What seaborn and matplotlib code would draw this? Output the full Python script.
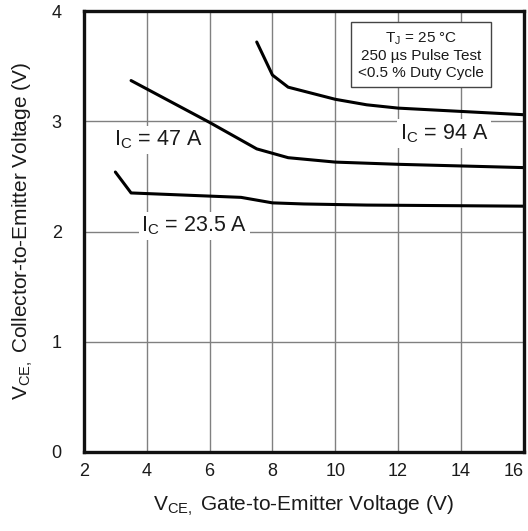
import pandas as pd
import matplotlib
matplotlib.use("Agg")
import matplotlib.pyplot as plt
import seaborn as sns

vge_94 = [7.5, 8.0, 8.5, 10.0, 11.0, 12.0, 14.0, 16.0]
vce_94 = [3.72, 3.42, 3.31, 3.20, 3.15, 3.12, 3.09, 3.06]
vge_47 = [3.5, 6.0, 7.5, 8.5, 10.0, 12.0, 16.0]
vce_47 = [3.37, 2.99, 2.75, 2.67, 2.63, 2.61, 2.58]
vge_23 = [3.0, 3.5, 7.0, 8.0, 9.0, 11.0, 16.0]
vce_23 = [2.54, 2.35, 2.31, 2.26, 2.25, 2.24, 2.23]

x_ticks = [2, 4, 6, 8, 10, 12, 14, 16]
y_ticks = [0, 1, 2, 3, 4]

sns.set_style("white")
plt.rcParams["font.family"] = ["Liberation Sans", "DejaVu Sans"]
plt.rcParams["mathtext.fontset"] = "custom"
plt.rcParams["mathtext.rm"] = "Liberation Sans"
plt.rcParams["mathtext.it"] = "Liberation Sans:italic"

df = pd.concat([
    pd.DataFrame({"vge": vge_94, "vce": vce_94, "ic": "94 A"}),
    pd.DataFrame({"vge": vge_47, "vce": vce_47, "ic": "47 A"}),
    pd.DataFrame({"vge": vge_23, "vce": vce_23, "ic": "23.5 A"}),
])

fig = plt.figure(figsize=(5.28, 5.31), dpi=100)
ax = fig.add_axes([0.159, 0.149, 0.833, 0.830])

sns.lineplot(data=df, x="vge", y="vce", hue="ic", units="ic", estimator=None,
             sort=False, palette=["black"] * 3, linewidth=2.2, legend=False, ax=ax)

ax.set_xlim(2, 16)
ax.set_ylim(0, 4)
ax.set_xticks(x_ticks)
ax.set_yticks(y_ticks)
ax.set_xticklabels([str(t) for t in x_ticks], fontsize=13)
ax.set_yticklabels([str(t) for t in y_ticks], fontsize=13)
ax.get_xticklabels()[-1].set_horizontalalignment("right")
ax.tick_params(axis="x", length=0, pad=8, colors="#1a1a1a")
ax.tick_params(axis="y", length=0, pad=16, colors="#1a1a1a")
ax.grid(True, color="#808080", linewidth=1.0)
ax.set_axisbelow(True)
for s in ax.spines.values():
    s.set_linewidth(2.4)
    s.set_color("#111111")

ax.set_xlabel(r"V$_{\mathrm{CE,}}$ Gate-to-Emitter Voltage (V)", fontsize=15,
              color="#1a1a1a", labelpad=10)
ax.set_ylabel(r"V$_{\mathrm{CE,}}$ Collector-to-Emitter Voltage (V)", fontsize=15,
              color="#1a1a1a", labelpad=12)

lbl = dict(fontsize=15.5, color="#1a1a1a", ha="center", va="center",
           bbox=dict(facecolor="white", edgecolor="none", pad=2))
ax.text(4.35, 2.83, r"I$_{\mathrm{C}}$ = 47 A", **lbl)
ax.text(13.46, 2.89, r"I$_{\mathrm{C}}$ = 94 A", **lbl)
ax.text(5.52, 2.05, r"I$_{\mathrm{C}}$ = 23.5 A", **lbl)

ax.text(12.73, 3.6, "T$_{\\mathrm{J}}$ = 25 °C\n250 µs Pulse Test\n<0.5 % Duty Cycle",
        fontsize=11, color="#1a1a1a", ha="center", va="center", linespacing=1.25,
        bbox=dict(facecolor="white", edgecolor="#444444", linewidth=1.0, pad=5))

fig.savefig("out.png", dpi=100)
